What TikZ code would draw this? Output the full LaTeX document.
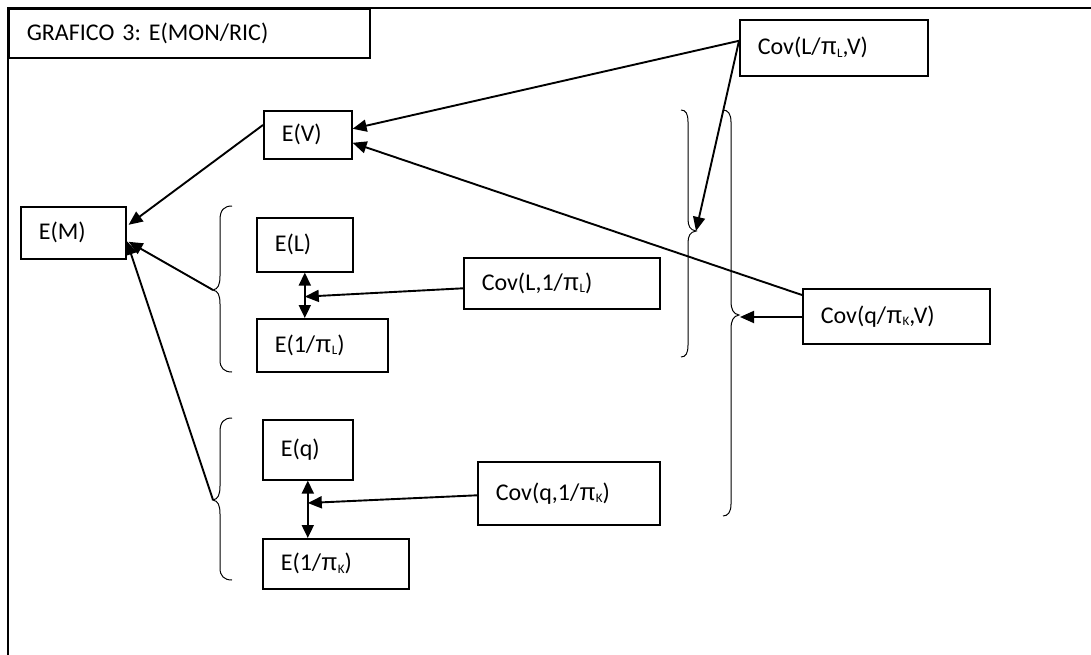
\documentclass[tikz,border=0pt]{standalone}
\usepackage{fontspec}
\setmainfont{Carlito}
\newfontfamily\pifont{Liberation Sans}
\usetikzlibrary{arrows.meta,calc}
\newcommand{\lsub}[1]{\raisebox{-0.1em}{\fontsize{13}{13}\selectfont #1}}
\newcommand{\mypi}{{\pifont π}}
\frenchspacing
\begin{document}
\begin{tikzpicture}[x=1pt,y=-1pt,
  box/.style={draw, line width=1.6pt, anchor=north west, inner xsep=18pt, inner ysep=0pt, align=left, font=\fontsize{24}{28}\selectfont},
  arr/.style={line width=1.9pt, -{Triangle[length=14pt,width=12pt]}},
  dbl/.style={line width=1.9pt, {Triangle[length=13pt,width=12pt]}-{Triangle[length=13pt,width=12pt]}},
  brace/.style={line width=1pt}]
\useasboundingbox (0,0) rectangle (1091,655);
% frame
\draw[line width=1.6pt] (8,655) -- (8,8) -- (1091,8);
% boxes
\node[box, text width=325pt, minimum height=49pt] (title) at (8,8) {GRAFICO 3: E(MON/RIC)};
\node[box, text width=52pt, minimum height=48pt] (EV) at (263,110) {E(V)};
\node[box, text width=69pt, minimum height=52pt] (EM) at (20,206) {E(M)};
\node[box, text width=60pt, minimum height=54pt] (EL) at (256,217) {E(L)};
\node[box, text width=95pt, minimum height=53pt] (E1L) at (256,318) {E(1/\mypi\lsub{L})};
\node[box, text width=160pt, minimum height=51pt] (CovL1) at (463,257) {Cov(L,1/\mypi\lsub{L})};
\node[box, text width=54pt, minimum height=60pt] (Eq) at (262,419) {E(q)};
\node[box, text width=110pt, minimum height=50pt] (E1K) at (262,538) {E(1/\mypi\lsub{K})};
\node[box, text width=146pt, minimum height=63pt] (Covq1) at (477,461) {Cov(q,1/\mypi\lsub{K})};
\node[box, text width=152pt, minimum height=56pt] (CovLV) at (739,19) {Cov(L/\mypi\lsub{L},V)};
\node[box, text width=151pt, minimum height=55pt] (CovqV) at (802,288) {Cov(q/\mypi\lsub{K},V)};
% braces
\draw[brace] (232,206) .. controls (224,206) and (220,210) .. (220,220) -- (220,276) .. controls (220,285) and (218,289) .. (213,290) .. controls (218,291) and (220,295) .. (220,304) -- (220,360) .. controls (220,368) and (224,372) .. (232,372);
\coordinate (bL) at (213,290);
\draw[brace] (232,418) .. controls (224,418) and (220,422) .. (220,432) -- (220,486) .. controls (220,495) and (218,499) .. (213,500) .. controls (218,501) and (220,505) .. (220,514) -- (220,568) .. controls (220,576) and (224,580) .. (232,580);
\coordinate (bq) at (213,500);
\draw[brace] (681,110) .. controls (686,110) and (688,114) .. (688,122) -- (688,219) .. controls (688,226) and (690,230) .. (696,231) .. controls (690,232) and (688,236) .. (688,243) -- (688,345) .. controls (688,353) and (686,357) .. (681,357);
\coordinate (bR1) at (696,231);
\draw[brace] (723,110) .. controls (728,110) and (731,114) .. (731,122) -- (731,301) .. controls (731,309) and (733,314) .. (739,315) .. controls (733,316) and (731,321) .. (731,329) -- (731,504) .. controls (731,512) and (728,516) .. (723,516);
\coordinate (bR2) at (740,317);
% connectors
\draw[arr] ($(EV.north west)+(0,15)$) -- ($(EM.east)+(2,-8)$);
\draw[arr] (bL) -- ($(EM.east)+(2,9)$);
\draw[arr] (bq) -- ($(EM.east)+(0,8)$);
\draw[dbl] (EL.south) -- (EL.south |- E1L.north);
\coordinate (mL) at ($(EL.south)!0.53!(EL.south |- E1L.north)$);
\draw[arr] ($(CovL1.west)+(0,5)$) -- (mL);
\draw[dbl] (Eq.south) -- (Eq.south |- E1K.north);
\coordinate (mq) at ($(Eq.south)!0.39!(Eq.south |- E1K.north)$);
\draw[arr] ($(Covq1.west)+(0,2)$) -- (mq);
\draw[arr] ($(CovLV.west)+(0,-7)$) -- ($(EV.east)+(0,-6)$);
\draw[arr] ($(CovLV.west)+(0,-7)$) -- (bR1);
\draw[arr] ($(CovqV.north west)+(0,7)$) -- ($(EV.east)+(0,8)$);
\draw[arr] (CovqV.west |- bR2) -- (bR2);
\end{tikzpicture}
\end{document}
